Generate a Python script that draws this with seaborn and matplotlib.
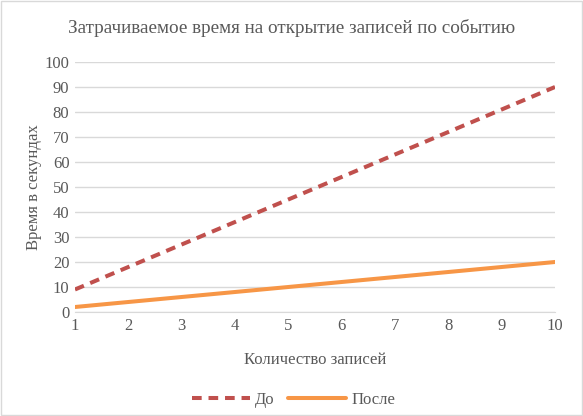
import pandas as pd
import matplotlib.pyplot as plt
import seaborn as sns

sns.set_style("white")
plt.rcParams['font.family'] = ['Liberation Serif', 'DejaVu Serif']

# Данные
records = [1, 2, 3, 4, 5, 6, 7, 8, 9, 10]
before = [9, 18, 27, 36, 45, 54, 63, 72, 81, 90]
after = [2, 4, 6, 8, 10, 12, 14, 16, 18, 20]

df = pd.DataFrame({
    "Количество записей": records * 2,
    "Время": before + after,
    "Серия": ["До"] * len(records) + ["После"] * len(records),
})

text_col = "#595959"
fig = plt.figure(figsize=(5.83, 4.16), dpi=100)
ax = fig.add_axes([0.1286, 0.25, 0.8234, 0.601])

sns.lineplot(data=df, x="Количество записей", y="Время", hue="Серия", style="Серия",
             palette={"До": "#C0504D", "После": "#F79646"},
             dashes={"До": (2.4, 1.7), "После": ""}, linewidth=2.9, ax=ax)

ax.set_xlim(1, 10)
ax.set_ylim(0, 100)
ax.set_xticks(records)
ax.set_yticks(range(0, 101, 10))
ax.grid(axis="y", color="#D9D9D9", linewidth=1)
ax.set_axisbelow(True)
for s in ["top", "right", "left"]:
    ax.spines[s].set_visible(False)
ax.spines["bottom"].set_color("#D9D9D9")
ax.tick_params(axis="both", colors=text_col, labelsize=12, length=0, pad=4)

ax.set_xlabel("Количество записей", color=text_col, fontsize=12, labelpad=13)
ax.set_ylabel("Время в секундах", color=text_col, fontsize=12, labelpad=2)
fig.suptitle("Затрачиваемое время на открытие записей по событию",
             color=text_col, fontsize=13.8, y=0.955)

handles, labels = ax.get_legend_handles_labels()
ax.legend(handles, labels, loc="lower center", bbox_to_anchor=(0.455, -0.445),
          ncol=2, frameon=False, fontsize=12, handlelength=3.5, columnspacing=0.8,
          handletextpad=0.3, labelcolor=text_col)

fig.patches.append(plt.Rectangle((0.002, 0.002), 0.996, 0.996, transform=fig.transFigure,
                                 fill=False, edgecolor="#D9D9D9", linewidth=1))

fig.savefig("out.png", dpi=100)
